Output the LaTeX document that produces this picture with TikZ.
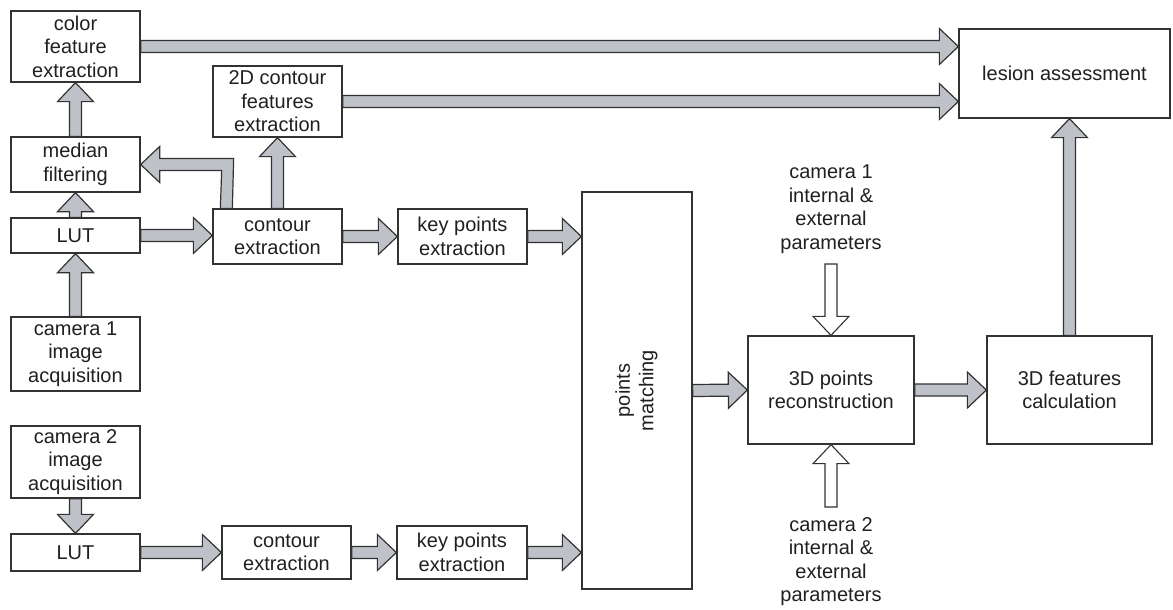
\documentclass[tikz,border=0pt]{standalone}
\usepackage{fontspec}
\setmainfont{Liberation Sans}
\usetikzlibrary{calc}
\definecolor{arrowfill}{RGB}{190,194,200}
\definecolor{edgecol}{RGB}{50,50,50}
\definecolor{txt}{RGB}{35,31,32}
\begin{document}
\begin{tikzpicture}[x=1pt,y=-1pt,
  box/.style={draw=edgecol, line width=1.3pt, fill=white, inner sep=0pt, align=center, text=txt,
    font=\fontsize{20}{23.5}\selectfont},
  lbl/.style={inner sep=0pt, align=center, text=txt, font=\fontsize{20}{23.5}\selectfont},
  fatpoly/.style={draw=edgecol, fill=arrowfill, line width=1.2pt, line join=miter},
  fat/.style={fatpoly,
    to path={($(\tikztostart)!6pt!90:(\tikztotarget)$)
      -- ($(\tikztotarget)!19.925pt!-17.526:(\tikztostart)$)
      -- ($(\tikztotarget)!26.173pt!-43.452:(\tikztostart)$)
      -- (\tikztotarget)
      -- ($(\tikztotarget)!26.173pt!43.452:(\tikztostart)$)
      -- ($(\tikztotarget)!19.925pt!17.526:(\tikztostart)$)
      -- ($(\tikztostart)!6pt!-90:(\tikztotarget)$) -- cycle}},
  fatw/.style={fat, fill=white, line width=1.1pt}
]
\useasboundingbox (0,0) rectangle (1173,610);

% boxes
\node[box, minimum width=129pt, minimum height=71pt] (color) at (75.5,46.5) {color\\feature\\extraction};
\node[box, minimum width=129pt, minimum height=71pt] (twod) at (277.5,101.5) {2D contour\\features\\extraction};
\node[box, minimum width=129pt, minimum height=55pt] (median) at (75.5,164.5) {median\\filtering};
\node[box, minimum width=129pt, minimum height=35pt] (lut1) at (75.5,235.5) {LUT};
\node[box, minimum width=129pt, minimum height=55pt] (cont1) at (277.5,236.5) {contour\\extraction};
\node[box, minimum width=129pt, minimum height=55pt] (key1) at (462.5,236.5) {key points\\extraction};
\node[box, minimum width=129pt, minimum height=74pt] (cam1) at (75.5,354) {camera 1\\image\\acquisition};
\node[box, minimum width=129pt, minimum height=72pt] (cam2) at (75.5,462) {camera 2\\image\\acquisition};
\node[box, minimum width=129pt, minimum height=37pt] (lut2) at (75.5,552.5) {LUT};
\node[box, minimum width=129pt, minimum height=53pt] (cont2) at (286.5,552.5) {contour\\extraction};
\node[box, minimum width=130pt, minimum height=53pt] (key2) at (462,552.5) {key points\\extraction};
\node[box, minimum width=110pt, minimum height=397pt] (pm) at (637,390.5)
  {\rotatebox{90}{\begin{tabular}{@{}c@{}}points\\matching\end{tabular}}};
\node[box, minimum width=166pt, minimum height=108pt] (rec) at (831,390) {3D points\\reconstruction};
\node[box, minimum width=165pt, minimum height=108pt] (feat) at (1069.5,390) {3D features\\calculation};
\node[box, minimum width=211pt, minimum height=89pt] (lesion) at (1064.5,73.5) {lesion assessment};
\node[lbl] (par1) at (831,209) {camera 1\\internal \&\\external\\parameters};
\node[lbl] (par2) at (831,561.5) {camera 2\\internal \&\\external\\parameters};
\coordinate (p1s) at (831,264);
\coordinate (p2n) at (831,507);

% gray arrows
\path[fat] (color.east) to (lesion.west |- color.east);
\path[fat] (twod.east) to (lesion.west |- twod.east);
\path[fat] (median.north) to (color.south);
\path[fat] (lut1.north) to (median.south);
\path[fat] (cam1.north) to (lut1.south);
\path[fat] (lut1.east) to (cont1.west |- lut1.east);
\path[fat] (cont1.north) to (twod.south);
\draw[fatpoly] ($(cont1.north west)+(8,0)$) -- ($(median.east)+(81,6)$) -- ($(median.east)+(19,6)$)
  -- ($(median.east)+(19,18)$) -- (median.east) -- ($(median.east)+(19,-18)$)
  -- ($(median.east)+(19,-6)$) -- ($(median.east)+(93,-6)$) -- ($(cont1.north west)+(20,0)$) -- cycle;
\path[fat] (cont1.east) to (key1.west);
\path[fat] (key1.east) to (pm.west |- key1.east);
\path[fat] (cam2.south) to (lut2.north);
\path[fat] (lut2.east) to (cont2.west);
\path[fat] (cont2.east) to (key2.west);
\path[fat] (key2.east) to (pm.west |- key2.east);
\path[fat] (pm.east) to (rec.west);
\path[fat] (rec.east) to (feat.west);
\path[fat] (feat.north) to (feat.north |- lesion.south);

% white arrows
\path[fatw] (p1s) to (rec.north);
\path[fatw] (p2n) to (rec.south);
\end{tikzpicture}
\end{document}
